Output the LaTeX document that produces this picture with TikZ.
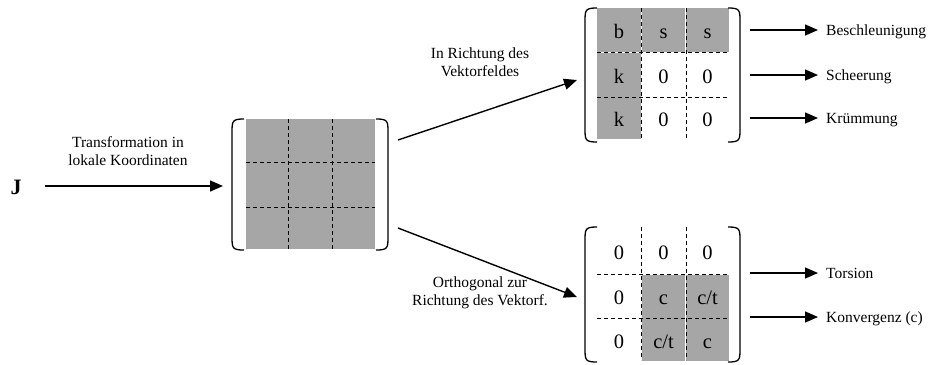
\documentclass[tikz,border=0pt]{standalone}
\usepackage{fontspec}
\setmainfont{Liberation Serif}
\usetikzlibrary{arrows.meta}
\definecolor{cellgray}{RGB}{166,166,166}
\newcommand\mylbr[3]{\draw[brk] (#1+12,#2) .. controls (#1,#2) and (#1,#2+2) .. (#1,#2+14) -- (#1,#3-14) .. controls (#1,#3-2) and (#1,#3) .. (#1+12,#3);}
\newcommand\myrbr[3]{\draw[brk] (#1-12,#2) .. controls (#1,#2) and (#1,#2+2) .. (#1,#2+14) -- (#1,#3-14) .. controls (#1,#3-2) and (#1,#3) .. (#1-12,#3);}
\begin{document}
\begin{tikzpicture}[x=1pt,y=-1pt,
  lbl/.style={font=\fontsize{15.5}{18}\selectfont, align=center, inner sep=0pt},
  side/.style={font=\fontsize{15.5}{18}\selectfont, anchor=base west, inner sep=0pt},
  cell/.style={font=\fontsize{20.5}{24}\selectfont, minimum width=43.5pt, minimum height=44pt, inner sep=0pt, text height=18pt, text depth=1pt},
  graycell/.style={cell, fill=cellgray},
  arr/.style={line width=1.4pt, -{Triangle[length=13pt,width=11pt]}},
  gridline/.style={line width=1pt, dash pattern=on 4pt off 3pt},
  brk/.style={line width=1.3pt}]
\useasboundingbox (0,0) rectangle (928,364);

% J and first arrow
\node[font=\bfseries\fontsize{22}{24}\selectfont, inner sep=0pt] (J) at (16,187) {J};
\coordinate (jstart) at (45,186);
\coordinate (jend) at (223,186);
\draw[arr] (jstart) -- (jend);
\node[lbl] (ltrans) at (128,151) {Transformation in\\lokale Koordinaten};

% middle matrix
\fill[cellgray] (246,119) rectangle (375,249);
\draw[gridline] (288,119) -- (288,249) (332,119) -- (332,249)
                (246,162) -- (375,162) (246,207) -- (375,207);
\mylbr{232}{119}{250}
\myrbr{388}{119}{250}
\node[inner sep=0pt, minimum width=156pt, minimum height=131pt] (M) at (310,184.5) {};

% top matrix
\node[graycell] (t11) at (619,30) {b};
\node[graycell] (t12) at (663.5,30) {s};
\node[graycell] (t13) at (707.5,30) {s};
\node[graycell] (t21) at (619,74.5) {k};
\node[cell] (t22) at (663.5,74.5) {0};
\node[cell] (t23) at (707.5,74.5) {0};
\node[graycell, minimum height=42pt] (t31) at (619,118) {k};
\node[cell] (t32) at (663.5,118) {0};
\node[cell] (t33) at (707.5,118) {0};
\draw[gridline] (641,8) -- (641,139) (686,8) -- (686,139)
                (597,52) -- (729,52) (597,97) -- (729,97);
\mylbr{585}{8}{142}
\myrbr{740}{8}{142}

% bottom matrix
\begin{scope}[cell/.append style={minimum height=43pt, text height=18pt, text depth=1pt}]
\node[cell] (b11) at (619,250.5) {0};
\node[cell] (b12) at (663.5,250.5) {0};
\node[cell] (b13) at (707.5,250.5) {0};
\node[cell] (b21) at (619,296) {0};
\node[graycell] (b22) at (663.5,296) {c};
\node[graycell] (b23) at (707.5,296) {c/t};
\node[cell] (b31) at (619,339.5) {0};
\node[graycell] (b32) at (663.5,339.5) {c/t};
\node[graycell] (b33) at (707.5,339.5) {c};
\end{scope}
\draw[gridline] (641,227) -- (641,360) (686,227) -- (686,360)
                (597,274) -- (729,274) (597,318) -- (729,318);
\mylbr{585}{227}{362}
\myrbr{740}{227}{362}

% diagonal arrows
\coordinate (mtop) at (398,140);
\coordinate (ttip) at (577,80);
\coordinate (mbot) at (398,228);
\coordinate (btip) at (577,297);
\draw[arr] (mtop) -- (ttip);
\draw[arr] (mbot) -- (btip);
\node[lbl] (lup) at (480,62) {In Richtung des\\Vektorfeldes};
\node[lbl] (ldown) at (480,293) {Orthogonal zur\\Richtung des Vektorf.};

% side arrows
\foreach \n/\y/\t in {a/30/Beschleunigung, b/75/Scheerung, c/118/Krümmung, d/273/Torsion, e/317/Konvergenz (c)}{
  \coordinate (s\n) at (750,\y);
  \coordinate (e\n) at (818,\y);
  \draw[arr] (s\n) -- (e\n);
  \node[side] (lab\n) at (826,\y+5) {\t};
}
\end{tikzpicture}
\end{document}
